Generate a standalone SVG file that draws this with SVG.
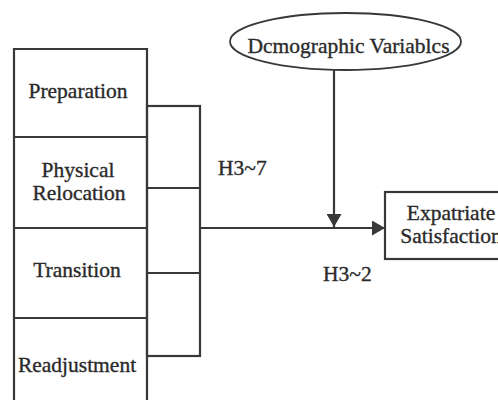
<svg xmlns="http://www.w3.org/2000/svg" width="498" height="403" viewBox="0 0 498 403">
<style>
.s{fill:none;stroke:#383838;stroke-width:2.2}
.t{font-size:21.5px;fill:#2a2a2a;stroke:#2a2a2a;stroke-width:0.35}
.m{text-anchor:middle}
</style>
<defs>
<marker id="ah" markerWidth="14" markerHeight="15" refX="13" refY="7.5" orient="auto" markerUnits="userSpaceOnUse">
<path d="M0,0 L13,7.5 L0,15 Z" fill="#383838"/>
</marker>
</defs>
<rect width="498" height="403" fill="#fff"/>
<g font-family="'Liberation Serif', Tinos, 'Times New Roman', serif">
<g id="stages">
<path class="s" d="M14,400 V49 H147 V400"/>
<g id="preparation">
<line class="s" x1="14" y1="137" x2="147" y2="137"/>
<text class="t m" x="78" y="98">Preparation</text>
</g>
<g id="physical-relocation">
<line class="s" x1="14" y1="228" x2="147" y2="228"/>
<text class="t m" x="78" y="177">Physical</text>
<text class="t m" x="79" y="200">Relocation</text>
</g>
<g id="transition">
<line class="s" x1="14" y1="318" x2="147" y2="318"/>
<text class="t m" x="77" y="277">Transition</text>
</g>
<g id="readjustment">
<text class="t m" x="77" y="372">Readjustment</text>
</g>
</g>
<g id="bracket">
<rect class="s" x="147" y="106" width="53" height="250"/>
<line class="s" x1="147" y1="188" x2="200" y2="188"/>
<line class="s" x1="147" y1="273" x2="200" y2="273"/>
</g>
<g id="demographic">
<ellipse class="s" cx="345.5" cy="41.5" rx="115.5" ry="28.5" style="stroke-width:1.8"/>
<text class="t m" x="348.5" y="53">Dcmographic Variablcs</text>
</g>
<g id="expatriate">
<rect class="s" x="385" y="192" width="132" height="67"/>
<text class="t m" x="451" y="220">Expatriate</text>
<text class="t m" x="451" y="243">Satisfaction</text>
</g>
<g id="connectors">
<line class="s" x1="200" y1="228" x2="385" y2="228" marker-end="url(#ah)"/>
<line class="s" x1="334" y1="70" x2="334" y2="227" marker-end="url(#ah)"/>
<text class="t" x="218" y="175">H3~7</text>
<text class="t" x="323" y="281">H3~2</text>
</g>
</g>
</svg>
